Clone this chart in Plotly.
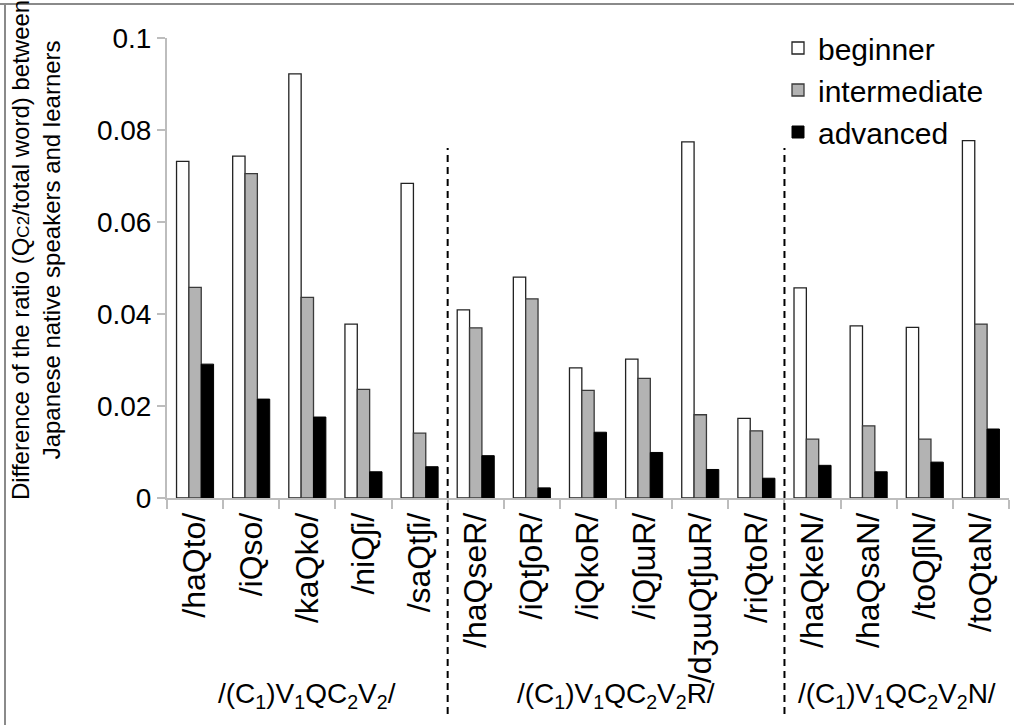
import plotly.graph_objects as go

categories = ["/haQto/", "/iQso/", "/kaQko/", "/niQʃi/", "/saQtʃi/",
              "/haQseR/", "/iQtʃoR/", "/iQkoR/", "/iQʃɯR/", "/dʒɯQtʃɯR/", "/riQtoR/",
              "/haQkeN/", "/haQsaN/", "/toQʃiN/", "/toQtaN/"]
beginner = [0.0732, 0.0743, 0.0922, 0.0378, 0.0684,
            0.0409, 0.0480, 0.0283, 0.0302, 0.0774, 0.0173,
            0.0457, 0.0374, 0.0371, 0.0777]
intermediate = [0.0458, 0.0705, 0.0436, 0.0236, 0.0141,
                0.0370, 0.0433, 0.0234, 0.0260, 0.0181, 0.0146,
                0.0128, 0.0157, 0.0128, 0.0378]
advanced = [0.0291, 0.0215, 0.0176, 0.0057, 0.0068,
            0.0092, 0.0022, 0.0143, 0.0099, 0.0062, 0.0043,
            0.0071, 0.0057, 0.0078, 0.0150]
group_labels = ["/(C<sub>1</sub>)V<sub>1</sub>QC<sub>2</sub>V<sub>2</sub>/",
                "/(C<sub>1</sub>)V<sub>1</sub>QC<sub>2</sub>V<sub>2</sub>R/",
                "/(C<sub>1</sub>)V<sub>1</sub>QC<sub>2</sub>V<sub>2</sub>N/"]
group_sizes = [5, 6, 4]
y_ticks = [0, 0.02, 0.04, 0.06, 0.08, 0.1]

FONT = "Liberation Sans, Arial, sans-serif"
W, H = 1014, 725
L, R, T, B = 167, 5, 38, 227
pw, ph = W - L - R, H - T - B
base = H - B  # pixel row of the x axis


def py(pix):
    """pixel row -> paper y"""
    return (base - pix) / ph


def px(pix):
    """pixel column -> paper x"""
    return (pix - L) / pw


fig = go.Figure()
fig.add_trace(go.Bar(name="beginner", x=categories, y=beginner,
                     marker=dict(color="white", line=dict(color="#222222", width=1.3))))
fig.add_trace(go.Bar(name="intermediate", x=categories, y=intermediate,
                     marker=dict(color="#b3b3b3", line=dict(color="#3a3a3a", width=1.3))))
fig.add_trace(go.Bar(name="advanced", x=categories, y=advanced,
                     marker=dict(color="black", line=dict(color="black", width=1))))

n = len(categories)
shapes = []
annotations = []
cum = 0
for i, (size, lab) in enumerate(zip(group_sizes, group_labels)):
    center = (cum + size / 2) / n
    annotations.append(dict(text=lab, x=center, y=py(695), xref="paper", yref="paper",
                            showarrow=False, xanchor="center", yanchor="middle",
                            font=dict(family=FONT, size=28, color="black")))
    cum += size
    if i < len(group_sizes) - 1:
        xp = cum / n
        shapes.append(dict(type="line", xref="paper", yref="paper",
                           x0=xp, x1=xp, y0=py(714), y1=py(148),
                           line=dict(color="black", width=2, dash="7px,5px")))

# frame lines (top and left)
shapes.append(dict(type="line", xref="paper", yref="paper",
                   x0=px(0), x1=px(W), y0=py(4), y1=py(4),
                   line=dict(color="#8a8a8a", width=2)))
shapes.append(dict(type="line", xref="paper", yref="paper",
                   x0=px(5), x1=px(5), y0=py(3), y1=py(H + 5),
                   line=dict(color="#8a8a8a", width=2)))

annotations.append(dict(
    text="Difference of the ratio (Q<span style='font-size:17px'>C2</span>/total word) between<br>Japanese native speakers and learners",
    x=px(36), y=py(250), xref="paper", yref="paper",
    textangle=-90, showarrow=False, xanchor="center", yanchor="middle",
    font=dict(family=FONT, size=24, color="black")))

fig.update_layout(
    width=W, height=H,
    margin=dict(l=L, r=R, t=T, b=B),
    paper_bgcolor="white", plot_bgcolor="white",
    barmode="group", bargap=0.34, bargroupgap=0,
    font=dict(family=FONT, color="black"),
    showlegend=True,
    legend=dict(x=px(778), y=py(22), xanchor="left", yanchor="top",
                bgcolor="rgba(0,0,0,0)", font=dict(family=FONT, size=30, color="black"),
                itemclick=False, tracegroupgap=0),
    shapes=shapes, annotations=annotations,
)
fig.update_xaxes(type="category", showline=True, linecolor="#bdbdbd", linewidth=2,
                 ticks="outside", tickson="boundaries", ticklen=9, tickcolor="#bdbdbd", tickwidth=2,
                 tickangle=-90, tickfont=dict(family=FONT, size=32, color="black"),
                 showgrid=False, zeroline=False)
fig.update_yaxes(range=[0, 0.1], tickvals=y_ticks, ticktext=[f"{v:g}" for v in y_ticks],
                 showline=True, linecolor="#bdbdbd", linewidth=2,
                 ticks="outside", ticklen=8, tickcolor="#bdbdbd", tickwidth=2,
                 tickfont=dict(family=FONT, size=28, color="black"),
                 showgrid=False, zeroline=False)

fig.write_html("out.html")
